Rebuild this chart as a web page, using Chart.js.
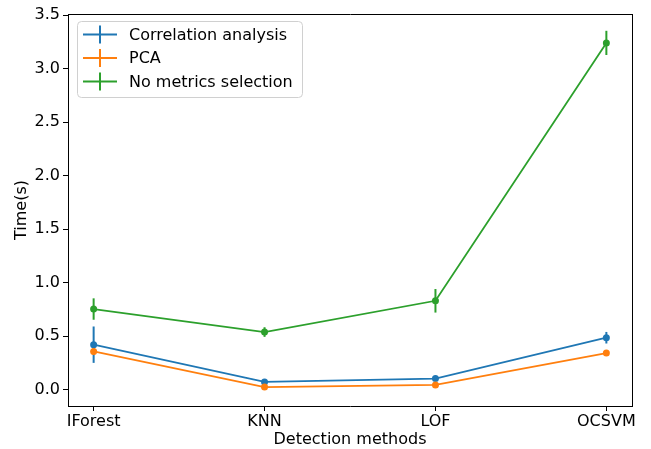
<!DOCTYPE html>
<html>
<head>
<meta charset="utf-8">
<script src="https://cdn.jsdelivr.net/npm/chart.js@4.4.1/dist/chart.umd.min.js"></script>
<style>
  html, body { margin: 0; padding: 0; background: #fff; }
  #wrap { width: 651px; height: 449px; position: relative; }
</style>
</head>
<body>
<div id="wrap"><canvas id="chart"></canvas></div>
<script>
const methods = ['IForest', 'KNN', 'LOF', 'OCSVM'];
const yTicks = [0.0, 0.5, 1.0, 1.5, 2.0, 2.5, 3.0, 3.5];

const corrMean = [0.42, 0.072, 0.103, 0.485];
const corrErr  = [0.17, 0.015, 0.015, 0.054];
const pcaMean  = [0.357, 0.024, 0.044, 0.342];
const pcaErr   = [0.03, 0.008, 0.008, 0.01];
const noSelMean = [0.753, 0.538, 0.83, 3.24];
const noSelErr  = [0.10, 0.045, 0.11, 0.113];

const seriesNames = ['Correlation analysis', 'PCA', 'No metrics selection'];
const colors = ['#1f77b4', '#ff7f0e', '#2ca02c'];
const FONT = "'DejaVu Sans', sans-serif";
const FS = 16;

function points(vals) {
  return vals.map((v, i) => ({ x: i, y: v }));
}

const errors = [corrErr, pcaErr, noSelErr];

// draw vertical error bars for each dataset just after it is drawn
const errorBars = {
  id: 'errorBars',
  afterDatasetDraw(chart, args) {
    const i = args.index;
    const ds = chart.data.datasets[i];
    const xs = chart.scales.x, ys = chart.scales.y;
    const ctx = chart.ctx;
    ctx.save();
    ctx.strokeStyle = ds.borderColor;
    ctx.lineWidth = 2;
    ds.data.forEach((p, k) => {
      const e = errors[i][k];
      const px = xs.getPixelForValue(p.x);
      ctx.beginPath();
      ctx.moveTo(px, ys.getPixelForValue(p.y - e));
      ctx.lineTo(px, ys.getPixelForValue(p.y + e));
      ctx.stroke();
    });
    ctx.restore();
  }
};

// matplotlib-like legend in the upper left of the plot
const boxLegend = {
  id: 'boxLegend',
  afterDraw(chart) {
    const ctx = chart.ctx;
    const a = chart.chartArea;
    const x0 = a.left + 9, y0 = a.top + 7, w = 225, h = 76;
    ctx.save();
    ctx.fillStyle = 'rgba(255,255,255,0.8)';
    ctx.strokeStyle = '#d0d0d0';
    ctx.lineWidth = 1;
    ctx.beginPath();
    ctx.roundRect(x0 + 0.5, y0 + 0.5, w, h, 4);
    ctx.fill();
    ctx.stroke();
    ctx.font = FS + 'px ' + FONT;
    ctx.textBaseline = 'middle';
    seriesNames.forEach((name, i) => {
      const cy = y0 + 13.5 + i * 23.5;
      ctx.strokeStyle = colors[i];
      ctx.lineWidth = 2;
      ctx.beginPath();
      ctx.moveTo(x0 + 6, cy);
      ctx.lineTo(x0 + 40, cy);
      ctx.moveTo(x0 + 23, cy - 9);
      ctx.lineTo(x0 + 23, cy + 9);
      ctx.stroke();
      ctx.fillStyle = '#000';
      ctx.fillText(name, x0 + 52, cy + 1);
    });
    ctx.restore();
  }
};

const datasets = [corrMean, pcaMean, noSelMean].map((vals, i) => ({
  label: seriesNames[i],
  data: points(vals),
  borderColor: colors[i],
  backgroundColor: colors[i],
  borderWidth: 1.8,
  pointRadius: 3.5,
  pointHoverRadius: 3.5,
  pointBorderWidth: 0,
  tension: 0,
  order: 3 - i
}));

new Chart(document.getElementById('chart'), {
  type: 'line',
  data: { datasets },
  plugins: [errorBars, boxLegend],
  options: {
    responsive: true,
    maintainAspectRatio: false,
    animation: false,
    events: [],
    layout: { padding: { top: 14, right: 19, left: 12, bottom: 0 } },
    plugins: { legend: { display: false }, tooltip: { enabled: false } },
    scales: {
      x: {
        type: 'linear',
        min: -0.15,
        max: 3.15,
        afterBuildTicks(scale) { scale.ticks = methods.map((m, i) => ({ value: i })); },
        afterFit(scale) { scale.height = 43; },
        ticks: {
          color: '#000',
          font: { family: FONT, size: FS },
          padding: 1,
          maxRotation: 0,
          callback: v => methods[v]
        },
        grid: { drawOnChartArea: false, color: '#000', tickLength: 5, tickWidth: 1 },
        border: { color: '#000', width: 1 },
        title: {
          display: true,
          text: 'Detection methods',
          color: '#000',
          font: { family: FONT, size: FS },
          padding: { top: 0, bottom: 0 }
        }
      },
      y: {
        type: 'linear',
        min: -0.153,
        max: 3.51,
        afterBuildTicks(scale) { scale.ticks = yTicks.map(v => ({ value: v })); },
        afterFit(scale) { scale.width = 56; },
        ticks: {
          color: '#000',
          font: { family: FONT, size: FS },
          padding: 3,
          callback: v => v.toFixed(1)
        },
        grid: { drawOnChartArea: false, color: '#000', tickLength: 5, tickWidth: 1 },
        border: { color: '#000', width: 1 },
        title: {
          display: true,
          text: 'Time(s)',
          color: '#000',
          font: { family: FONT, size: FS },
          padding: { top: 0, bottom: 0 }
        }
      },
      x2: {
        type: 'linear', position: 'top', display: true,
        afterFit(scale) { scale.height = 0; },
        ticks: { display: false },
        grid: { display: false },
        border: { color: '#000', width: 1 }
      },
      y2: {
        type: 'linear', position: 'right', display: true,
        afterFit(scale) { scale.width = 0; },
        ticks: { display: false },
        grid: { display: false },
        border: { color: '#000', width: 1 }
      }
    }
  }
});
</script>
</body>
</html>
